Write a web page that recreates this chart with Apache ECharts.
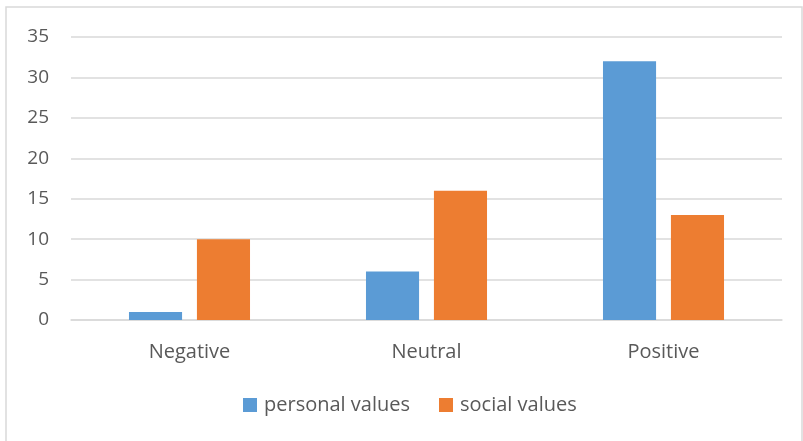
<!DOCTYPE html>
<html>
<head>
<meta charset="utf-8">
<script src="https://cdn.jsdelivr.net/npm/echarts@6/dist/echarts.min.js"></script>
<style>
  html, body { margin: 0; padding: 0; background: #fff; }
  #chart { width: 803px; height: 441px; }
</style>
</head>
<body>
<div id="chart"></div>
<script>
const categories = ['Negative', 'Neutral', 'Positive'];
const personalValues = [1, 6, 32];
const socialValues = [10, 16, 13];

const myChart = echarts.init(document.getElementById('chart'));
const font = '"Open Sans", "Noto Sans", sans-serif';

const option = {
  animation: false,
  textStyle: { fontFamily: font },
  graphic: [
    {
      type: 'rect',
      shape: { x: 6, y: 7, width: 796, height: 440 },
      style: { fill: 'none', stroke: '#d9d9d9', lineWidth: 1.5 },
      silent: true
    }
  ],
  grid: { left: 71, right: 21, top: 37, bottom: 121 },
  legend: {
    bottom: 21,
    left: 238,
    itemWidth: 14,
    itemHeight: 14,
    itemGap: 29,
    icon: 'rect',
    textStyle: { color: '#595959', fontSize: 20, fontFamily: font, padding: [0, 0, 0, 2] },
    data: ['personal values', 'social values']
  },
  xAxis: {
    type: 'category',
    data: categories,
    axisLine: { lineStyle: { color: '#d9d9d9', width: 1.5 } },
    axisTick: { show: false },
    axisLabel: { color: '#595959', fontSize: 20, margin: 22 }
  },
  yAxis: {
    type: 'value',
    min: 0,
    max: 35,
    interval: 5,
    axisLine: { show: false },
    axisTick: { show: false },
    splitLine: { lineStyle: { color: '#d9d9d9', width: 1.5 } },
    axisLabel: { color: '#595959', fontSize: 19, margin: 22 }
  },
  series: [
    {
      name: 'personal values',
      type: 'bar',
      data: personalValues,
      barWidth: '22.4%',
      barGap: '28%',
      itemStyle: { color: '#5B9BD5' }
    },
    {
      name: 'social values',
      type: 'bar',
      data: socialValues,
      barWidth: '22.4%',
      itemStyle: { color: '#ED7D31' }
    }
  ]
};

myChart.setOption(option);
</script>
</body>
</html>
